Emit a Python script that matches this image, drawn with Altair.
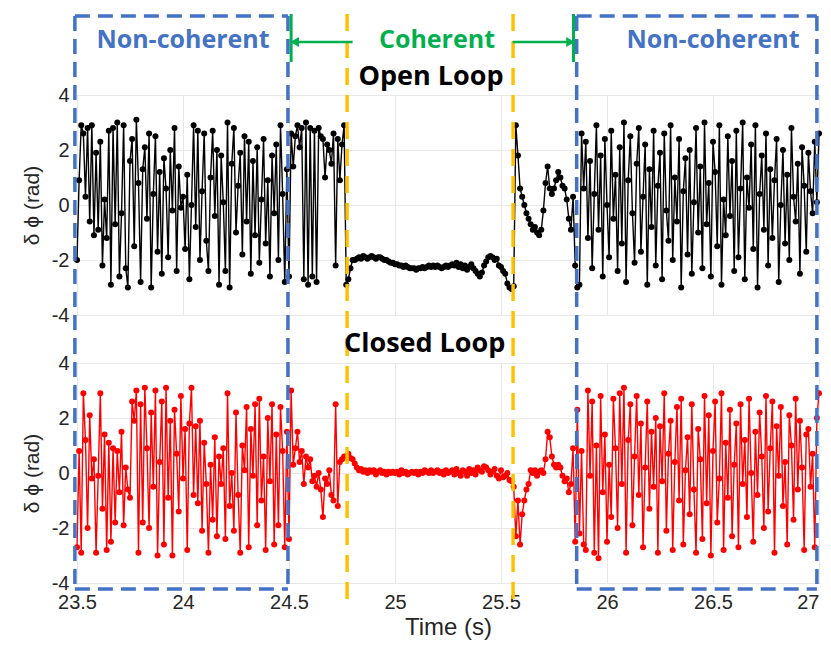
import altair as alt
import pandas as pd

# ---------------- data ----------------
SEG_START = [23.50, 24.50, 24.77, 25.57, 25.86]
DT = 0.01

open_a = [-2.0, 0.9, 2.9, 2.6, 0.3, 2.8, -0.6, 2.9, -1.1, 1.9,
          -0.9, 2.3, -2.2, 0.2, -1.2, 2.7, -2.9, 2.8, -0.7, 3.0,
          -2.6, -0.3, 2.9, -2.3, -3.0, 1.6, 2.4, -1.5, 3.1, 0.8,
          -2.8, 1.3, 2.1, -0.5, 2.6, -3.0, 0.4, 2.5, -1.7, 1.2,
          -2.5, 1.7, 0.6, -1.9, 2.0, -0.2, 2.8, -2.4, 1.4, -0.1,
          0.3, -1.6, 1.1, -2.7, 0.0, 2.9, -0.8, 2.7, -2.0, 0.5,
          2.6, -1.3, -2.4, 1.0, 2.7, -0.4, 2.0, -2.9, 1.8, 0.1,
          -2.4, 3.0, -3.0, 1.5, 2.8, -1.0, 0.7, 1.9, -1.8, 2.5,
          -0.6, 2.3, -2.5, 1.6, -1.1, 2.1, -2.1, 0.2, 2.4, -1.4,
          0.9, -2.6, 1.8, -0.3, 2.2, -2.0, 2.9, 0.4, -2.8, 1.3]
open_b = [-2.6, 2.6, 1.4, 2.5, 2.9, 2.1, 2.8, -2.7, 3.0, -2.9,
          2.8, -2.6, 2.7, -2.8, 2.8, 2.5, 2.4, 1.0, 2.2, 2.0,
          1.5, 2.6, -2.2, 2.4, 0.9, 2.2, 2.9]
open_c = [-2.9, -2.7, -2.3, -2.0, -2.0, -1.95, -1.9, -1.95, -1.85, -1.9,
          -1.95, -1.9, -1.85, -1.9, -1.95, -1.9, -1.9, -1.95, -2.0, -2.0,
          -2.05, -2.1, -2.1, -2.15, -2.15, -2.2, -2.2, -2.25, -2.2, -2.25,
          -2.3, -2.3, -2.3, -2.35, -2.3, -2.3, -2.25, -2.3, -2.25, -2.2,
          -2.25, -2.2, -2.25, -2.2, -2.25, -2.3, -2.25, -2.2, -2.25, -2.2,
          -2.15, -2.2, -2.1, -2.25, -2.15, -2.3, -2.2, -2.35, -2.25, -2.15,
          -2.3, -2.4, -2.5, -2.6, -2.45, -2.2, -2.05, -1.9, -1.85, -1.9,
          -2.0, -1.95, -2.2, -2.25, -2.4, -2.5, -2.85, -3.0, -3.05, -2.95]
open_d = [2.9, 1.8, 0.6, 0.3, 0.0, -0.3, -0.5, -0.7, -0.9, -0.8,
          -1.0, -1.1, -0.9, -0.2, 0.8, 1.4, 0.6, 0.4, 0.6, 0.9,
          1.2, 1.0, 0.7, 0.6, 0.2, -0.5, -0.9, 0.3, -2.2]
open_e = [-3.0, -2.9, 2.6, 0.6, 2.3, -1.2, 1.6, -2.3, 0.4, 2.9,
          -0.9, 1.8, -2.6, 2.4, 0.0, -1.9, 2.7, -0.5, 1.1, -2.4,
          2.1, -1.4, 3.0, -2.8, 0.9, 2.5, -0.3, -2.1, 1.5, 2.8,
          -1.7, 0.3, 2.2, -2.9, 1.3, -0.8, 2.7, -2.2, 0.7, 1.9,
          -2.7, 2.6, -0.2, -1.3, 2.9, -2.0, 1.0, -0.6, 2.4, -3.0,
          0.5, 1.7, -1.8, 2.0, -2.5, 0.1, 2.8, -1.0, 1.4, -2.3,
          3.0, -0.7, 0.8, -2.6, 2.3, 1.2, -1.5, 2.9, -2.9, 0.2,
          -1.1, 2.5, -0.4, 1.6, -2.4, 2.7, -1.9, 0.6, 3.0, -2.7,
          1.0, -0.1, 2.2, -1.6, 2.9, -3.0, 0.4, 1.8, -0.9, 2.6,
          -2.2, 1.3, -1.2, 0.9, 2.4, -2.8, 0.0, 2.0, -1.4, 1.1,
          -2.0, 2.8, 0.3, -0.6, 1.5, -2.5, 2.1, 0.7, -1.7, 1.9,
          0.5, -0.3, 2.3, 0.1, 2.6]

closed_a = [-2.7, 0.8, -2.9, 2.9, 1.2, -2.0, 2.1, -0.2, 0.5, -2.9,
            -0.1, 2.9, -1.3, 1.4, -2.8, 1.1, -2.5, 0.9, -1.8, 0.8,
            -0.7, 1.5, -1.9, 0.2, -0.6, -0.9, 2.6, 1.9, 3.0, -2.9,
            2.5, -1.8, 3.1, 0.9, -2.0, 2.2, -0.5, 3.0, -3.0, 0.4,
            2.6, -2.6, 3.1, -0.9, 1.9, -3.0, 2.3, 0.7, -1.4, 2.8,
            -0.2, 1.6, -2.8, 1.8, 3.1, -0.8, 1.7, -1.1, 1.9, -2.1,
            1.1, -0.4, -2.9, 0.3, -1.7, 1.3, -2.3, 0.6, -0.4, 0.9,
            -2.4, 2.9, -1.2, 0.0, -2.1, 2.2, -0.8, -2.9, 1.0, 0.1,
            2.4, -2.7, 1.6, -0.1, 2.5, -1.9, 2.7, -1.0, 0.6, -2.8,
            2.0, -0.3, 2.5, -2.6, 1.4, -1.9, 2.4, 0.8, -2.7, 1.5]
closed_b = [-2.4, 3.0, 0.3, 0.9, 1.5, 0.4, 0.8, -0.4, 0.6, 0.2,
            0.5, -0.3, -0.1, -0.5, 0.0, -0.6, -1.6, -0.2, -0.4, 0.1,
            -0.8, -1.0, 2.5, -1.2, 0.4, 0.5, 0.6]
closed_c = [0.6, 0.7, 0.55, 0.5, 0.35, 0.2, 0.1, 0.15, 0.05, 0.1,
            0.0, 0.1, 0.05, 0.1, -0.05, 0.05, 0.1, 0.0, 0.05, -0.05,
            0.05, 0.0, 0.05, 0.0, 0.05, -0.05, 0.1, 0.0, 0.05, -0.05,
            0.0, 0.05, 0.0, 0.05, -0.05, 0.05, 0.0, 0.1, 0.05, 0.0,
            0.1, 0.0, 0.05, 0.1, 0.0, 0.05, -0.05, 0.1, 0.0, 0.05,
            0.1, -0.05, 0.15, 0.0, -0.1, 0.1, 0.05, -0.1, 0.15, 0.0,
            0.1, -0.05, 0.2, 0.1, 0.05, 0.25, 0.2, 0.1, -0.05, 0.05,
            0.15, -0.1, -0.2, 0.1, -0.15, -0.1, 0.0, -0.25, -0.3, -0.5]
closed_d = [-2.3, -1.0, -2.6, -1.5, -1.0, -0.6, -0.4, 0.1, 0.0, 0.1,
            -0.1, 0.05, 0.1, 0.0, 0.5, 1.5, 1.3, 0.6, 0.3, 0.2,
            0.3, 0.2, -0.1, -0.3, -0.2, -0.7, -0.4, 0.9, -2.5]
closed_e = [2.3, -2.2, 0.8, -2.6, -2.8, 3.0, -0.1, 2.6, -2.9, 1.0,
            -3.1, 2.8, -0.7, 1.4, -2.5, 0.3, -1.6, 2.7, 0.9, -2.0,
            2.9, -0.4, 3.1, -2.9, 1.2, 2.5, -1.9, 0.6, 2.8, -0.8,
            1.8, -2.7, 0.2, 2.6, -1.3, 1.5, -0.5, 2.0, -2.9, 1.7,
            -0.3, 2.9, -2.1, 0.7, 1.9, -2.8, 0.4, 2.4, -1.0, 2.7,
            -2.6, 0.1, 1.3, -1.5, 2.5, -0.6, -2.9, 1.6, 0.5, -2.4,
            2.8, -1.1, 2.1, -3.0, 0.8, 2.6, -1.8, -0.2, 2.9, -2.8,
            1.1, -0.9, 2.3, -2.3, 0.3, 1.8, -2.7, 2.5, -0.4, 1.2,
            -1.6, 2.7, 0.0, -2.5, 1.5, -0.8, 2.2, 0.6, -2.0, 2.8,
            -1.4, 0.9, 2.6, -2.9, 1.7, -0.1, 2.4, -1.2, 0.4, -2.6,
            2.1, 1.0, -1.7, 2.7, -0.6, 1.9, 0.2, -2.8, 1.4, 1.6,
            -0.5, 0.7, -2.7, 2.0, 2.9]

X_TICKS = [23.5, 24, 24.5, 25, 25.5, 26, 26.5, 27]
Y_TICKS = [-4, -2, 0, 2, 4]

# annotation anchors (time values)
ORANGE_T = [24.774, 25.557]
BOXES = [(23.49, 24.495), (25.857, 26.99)]
GREEN_T = [24.51, 25.842]
ARROW_SHAFTS = [(24.53, 24.80), (25.555, 25.825)]
ARROW_HEADS = [(24.527, "triangle-left"), (25.828, "triangle-right")]
REGION_LABELS = [(24.0, "Non-coherent", "#4472C4"), (25.198, "Coherent", "#00B050"),
                 (26.5, "Non-coherent", "#4472C4")]
PANEL_TITLES = [(25.17, "Open Loop"), (25.14, "Closed Loop")]

# vertical levels outside the plot area, in data units of each panel
Y_ORANGE_TOP, Y_BOX_TOP, Y_GREEN_TOP, Y_GREEN_BOT = 6.95, 6.873, 6.95, 5.2
Y_ARROW, Y_REGION, Y_OPEN = 5.93, 6.0, 4.655
Y_GAP = 4.873
Y_BOX_BOT, Y_ORANGE_BOT, Y_CLOSED = -4.218, -4.66, 4.70

BLUE, ORANGE, GREEN = "#4472C4", "#FFC000", "#00B050"


def series(segs):
    t, v = [], []
    for s, vals in zip(SEG_START, segs):
        for i, val in enumerate(vals):
            t.append(round(s + DT * i, 4))
            v.append(val)
    return pd.DataFrame({"t": t, "v": v})


open_df = series([open_a, open_b, open_c, open_d, open_e])
closed_df = series([closed_a, closed_b, closed_c, closed_d, closed_e])

XS = alt.Scale(domain=[23.5, 27], nice=False, zero=False)
YS = alt.Scale(domain=[-4, 4], nice=False, zero=False)
W, H = 742, 220
Y_TITLE = "δ ϕ (rad)"
LAST_LABEL = {"condition": {"test": "datum.value >= 27", "value": "right"}, "value": "center"}


def make_enc(show_x):
    if show_x:
        xax = alt.Axis(values=X_TICKS, labelPadding=9, titleFontSize=24, titlePadding=3, format="~g",
                       labelAlign=LAST_LABEL)
        xt = "Time (s)"
    else:
        xax = alt.Axis(values=X_TICKS, labels=False)
        xt = ""
    yax = alt.Axis(values=Y_TICKS, labelPadding=8, titlePadding=9, titleFontSize=21,
                   labelExpr="toString(datum.value)")

    def xe(f):
        return alt.X(f, scale=XS, axis=xax, title=xt)

    def ye(f):
        return alt.Y(f, scale=YS, axis=yax, title=Y_TITLE)
    return xe, ye


def panel(df, color, top, show_x):
    xe, ye = make_enc(show_x)

    def rules(rows, rcolor, dash, width):
        d = pd.DataFrame(rows, columns=["t", "t2", "v", "v2"])
        return alt.Chart(d).mark_rule(color=rcolor, strokeDash=dash, strokeWidth=width).encode(
            x=xe("t:Q"), x2="t2:Q", y=ye("v:Q"), y2="v2:Q")

    base = alt.Chart(df).encode(x=xe("t:Q"), y=ye("v:Q"))
    line = base.mark_line(color=color, strokeWidth=1.4)
    pts = base.mark_circle(color=color, size=36, opacity=1)

    layers = [line, pts]
    if top:
        o_rows = [(t, t, Y_ORANGE_TOP, -Y_GAP) for t in ORANGE_T]
        b_rows = []
        for a, b in BOXES:
            b_rows += [(a, b, Y_BOX_TOP, Y_BOX_TOP), (a, a, Y_BOX_TOP, -Y_GAP), (b, b, Y_BOX_TOP, -Y_GAP)]
        g_rows = [(t, t, Y_GREEN_TOP, Y_GREEN_BOT) for t in GREEN_T]
        s_rows = [(a, b, Y_ARROW, Y_ARROW) for a, b in ARROW_SHAFTS]
        layers += [rules(o_rows, ORANGE, [17, 10], 3.5), rules(b_rows, BLUE, [15, 8], 3.5),
                   rules(g_rows, GREEN, [1, 0], 3), rules(s_rows, GREEN, [1, 0], 2.5)]
        heads = pd.DataFrame([(t, Y_ARROW, s) for t, s in ARROW_HEADS], columns=["t", "v", "shape"])
        layers.append(alt.Chart(heads).mark_point(filled=True, color=GREEN, size=100, opacity=1).encode(
            x=xe("t:Q"), y=ye("v:Q"), shape=alt.Shape("shape:N", scale=None)))
        lab = pd.DataFrame([(t, Y_REGION, s, c) for t, s, c in REGION_LABELS],
                           columns=["t", "v", "label", "color"])
        layers.append(alt.Chart(lab).mark_text(font="Open Sans", fontSize=25, fontWeight="bold",
                                               baseline="middle", align="center").encode(
            x=xe("t:Q"), y=ye("v:Q"), text="label:N", color=alt.Color("color:N", scale=None)))
        ttl = pd.DataFrame([(PANEL_TITLES[0][0], Y_OPEN, PANEL_TITLES[0][1])], columns=["t", "v", "label"])
    else:
        o_rows = [(t, t, Y_GAP, Y_ORANGE_BOT) for t in ORANGE_T]
        b_rows = []
        for a, b in BOXES:
            b_rows += [(a, b, Y_BOX_BOT, Y_BOX_BOT), (a, a, Y_GAP, Y_BOX_BOT), (b, b, Y_GAP, Y_BOX_BOT)]
        layers += [rules(o_rows, ORANGE, [17, 10], 3.5), rules(b_rows, BLUE, [15, 8], 3.5)]
        ttl = pd.DataFrame([(PANEL_TITLES[1][0], Y_CLOSED, PANEL_TITLES[1][1])], columns=["t", "v", "label"])
    layers.append(alt.Chart(ttl).mark_text(font="Open Sans", fontSize=27, fontWeight="bold",
                                           color="#000000", baseline="middle", align="center").encode(
        x=xe("t:Q"), y=ye("v:Q"), text="label:N"))
    return alt.layer(*layers).properties(width=W, height=H)


top = panel(open_df, "#000000", True, False)
bottom = panel(closed_df, "#FF0000", False, True)

chart = alt.vconcat(top, bottom, spacing=48, bounds="flush").properties(
    padding={"left": 12, "top": 3, "right": 0, "bottom": 0}
).configure_view(stroke="#8a8a8a", strokeWidth=1).configure_axis(
    grid=True, gridColor="#e8e8e8", domain=False, ticks=False, labelFlush=False,
    labelFont="Liberation Sans", labelFontSize=20, labelColor="#262626",
    titleFont="Liberation Sans", titleFontWeight="normal", titleColor="#262626"
)

chart.save("out.html", embed_options={"renderer": "svg", "actions": False})
